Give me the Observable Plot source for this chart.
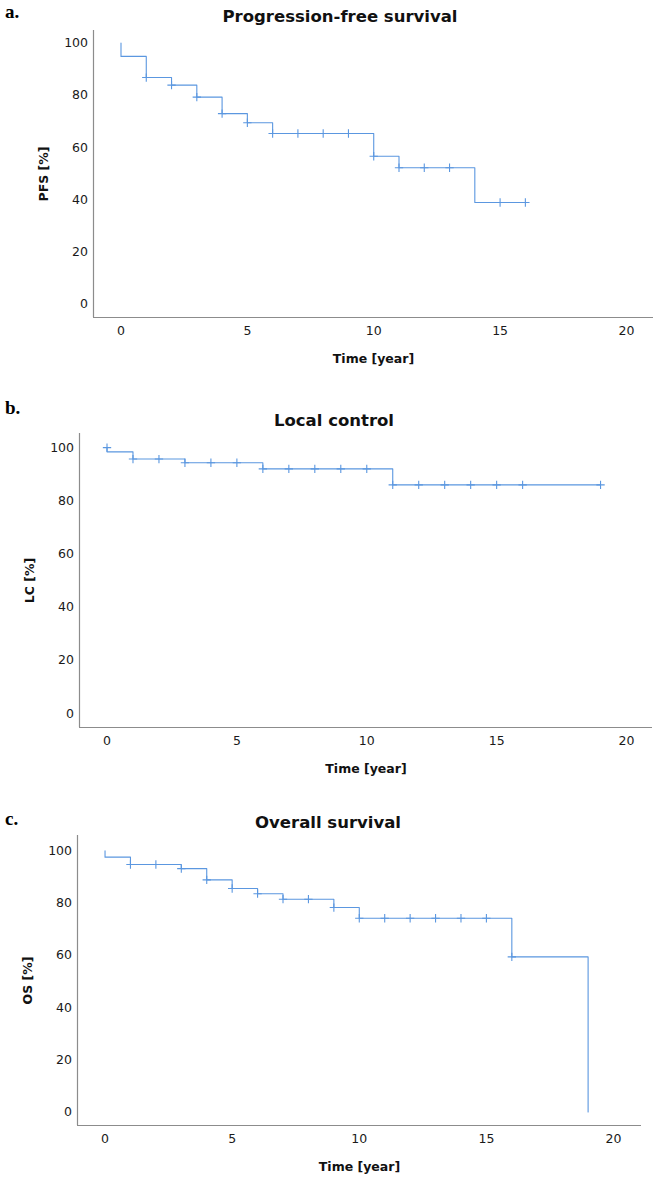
<!DOCTYPE html>
<html>
<head>
<meta charset="utf-8">
<script src="https://cdn.jsdelivr.net/npm/d3@7"></script>
<script src="https://cdn.jsdelivr.net/npm/@observablehq/plot@0.6"></script>
<style>
  html, body { margin: 0; padding: 0; background: #fff; }
  #page { position: relative; width: 662px; height: 1180px; overflow: hidden; background: #fff; }
  .panel { position: absolute; left: 0; }
  .title { position: absolute; transform: translateX(-50%); white-space: nowrap;
           font-family: "DejaVu Sans", sans-serif; font-weight: bold; font-size: 16.5px; line-height: 1; color: #111; }
  .letter { position: absolute; left: 5px; font-family: "Liberation Serif", serif; font-weight: bold;
            font-size: 19px; line-height: 1; color: #000; }
  svg [aria-label="x-axis label"] text, svg [aria-label="y-axis label"] text { font-weight: bold; fill: #111; font-size: 12.5px; }
</style>
</head>
<body>
<div id="page"></div>
<script>
// ---- data ----
const xTicks = [0, 5, 10, 15, 20];
const yTicks = [0, 20, 40, 60, 80, 100];

// a. Progression-free survival
const pfsTime = [0, 0, 1, 2, 3, 4, 5, 6, 10, 11, 14, 16];
const pfsSurv = [100, 94.9, 86.8, 83.9, 79.3, 73.0, 69.5, 65.4, 56.7, 52.3, 39.0, 39.0];
const pfsCensorTime = [1, 2, 3, 4, 5, 6, 7, 8, 9, 10, 11, 12, 13, 15, 16];
const pfsCensorSurv = [86.8, 83.9, 79.3, 73.0, 69.5, 65.4, 65.4, 65.4, 65.4, 56.7, 52.3, 52.3, 52.3, 39.0, 39.0];

// b. Local control
const lcTime = [0, 0, 1, 3, 6, 11, 19];
const lcSurv = [100, 98.4, 95.7, 94.3, 92.0, 86.0, 86.0];
const lcCensorTime = [0, 1, 2, 3, 4, 5, 6, 7, 8, 9, 10, 11, 12, 13, 14, 15, 16, 19];
const lcCensorSurv = [100, 95.7, 95.7, 94.3, 94.3, 94.3, 92.0, 92.0, 92.0, 92.0, 92.0, 86.0, 86.0, 86.0, 86.0, 86.0, 86.0, 86.0];

// c. Overall survival
const osTime = [0, 0, 1, 3, 4, 5, 6, 7, 9, 10, 16, 19];
const osSurv = [100, 97.6, 94.8, 93.2, 88.9, 85.6, 83.6, 81.5, 78.3, 74.2, 59.4, 0];
const osCensorTime = [1, 2, 3, 4, 5, 6, 7, 8, 9, 10, 11, 12, 13, 14, 15, 16];
const osCensorSurv = [94.8, 94.8, 93.2, 88.9, 85.6, 83.6, 81.5, 81.5, 78.3, 74.2, 74.2, 74.2, 74.2, 74.2, 74.2, 59.4];

const blue = "#5b97e0";
const axisGray = "#8c8c8c";

function zip(a, b) { return a.map((v, i) => ({t: v, s: b[i]})); }

function panel(cfg) {
  const steps = zip(cfg.time, cfg.surv);
  const cens = zip(cfg.cTime, cfg.cSurv);
  return Plot.plot({
    width: 662,
    height: cfg.height,
    marginTop: cfg.mt, marginBottom: cfg.mb, marginLeft: cfg.ml, marginRight: cfg.mr,
    style: {fontFamily: "'DejaVu Sans', sans-serif", fontSize: "12.5px", color: "#222", background: "#fff", overflow: "visible"},
    x: {domain: cfg.xDomain},
    y: {domain: cfg.yDomain},
    marks: [
      Plot.axisY(yTicks, {tickSize: 0, tickPadding: 5.5, fill: "#1a1a1a",
        label: cfg.ylabel, labelAnchor: "center", labelOffset: 54, labelArrow: "none"}),
      Plot.axisX(xTicks, {tickSize: 0, tickPadding: 9, fill: "#1a1a1a",
        label: "Time [year]", labelAnchor: "center", labelOffset: 45, labelArrow: "none"}),
      Plot.ruleX([cfg.xDomain[0]], {stroke: axisGray, strokeWidth: 1.2}),
      Plot.ruleY([cfg.yDomain[0]], {stroke: axisGray, strokeWidth: 1.2}),
      Plot.line(steps, {x: "t", y: "s", curve: "step-after", stroke: blue, strokeWidth: 1.1}),
      Plot.dot(cens, {x: "t", y: "s", symbol: "plus", r: 2.8, stroke: blue, strokeWidth: 1.1})
    ]
  });
}

const page = document.getElementById("page");

function addPanel(top, cfg, letter, letterTop, title, titleX, titleTop) {
  const d = document.createElement("div");
  d.className = "panel";
  d.style.top = top + "px";
  d.appendChild(panel(cfg));
  page.appendChild(d);
  const l = document.createElement("div");
  l.className = "letter";
  l.style.top = letterTop + "px";
  l.textContent = letter;
  page.appendChild(l);
  const t = document.createElement("div");
  t.className = "title";
  t.style.left = titleX + "px";
  t.style.top = titleTop + "px";
  t.textContent = title;
  page.appendChild(t);
}

addPanel(0, {time: pfsTime, surv: pfsSurv, cTime: pfsCensorTime, cSurv: pfsCensorSurv,
  height: 370, mt: 30, mb: 53, ml: 93, mr: 9, xDomain: [-1.088, 21.07], yDomain: [-5, 104.8], ylabel: "PFS [%]"},
  "a.", 2, "Progression-free survival", 340, 9);

addPanel(370, {time: lcTime, surv: lcSurv, cTime: lcCensorTime, cSurv: lcCensorSurv,
  height: 410, mt: 63, mb: 53, ml: 79, mr: 10, xDomain: [-1.059, 21.0], yDomain: [-5.2, 105.3], ylabel: "LC [%]"},
  "b.", 398, "Local control", 334, 413);

addPanel(780, {time: osTime, surv: osSurv, cTime: osCensorTime, cSurv: osCensorSurv,
  height: 400, mt: 55, mb: 55, ml: 77, mr: 21, xDomain: [-1.083, 21.1], yDomain: [-5.2, 105.9], ylabel: "OS [%]"},
  "c.", 809, "Overall survival", 328, 815);
</script>
</body>
</html>
